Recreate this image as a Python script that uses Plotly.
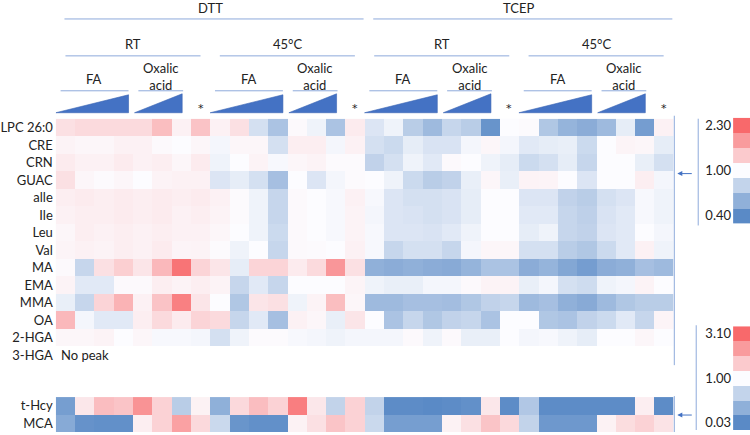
import plotly.graph_objects as go

W, H = 750, 435
FONT = "Lato"
TXT = "#222222"
LINE = "#8EAADB"
TRI = "#4472C4"

rows_top = ["LPC 26:0", "CRE", "CRN", "GUAC", "alle", "Ile", "Leu", "Val",
            "MA", "EMA", "MMA", "OA", "2-HGA", "3-HGA"]
rows_bot = ["t-Hcy", "MCA"]

lpc = [1.25,1.3,1.3,1.3,1.3,1.55,1.1,1.5, 1.1,1.25,0.85,0.7,1.03,0.95,0.7,1.15,
       0.88,0.95,0.75,0.65,0.8,0.75,0.45,1.0, 1.02,0.72,0.62,0.58,0.65,0.92,0.5,1.1]
cre = [1.08,1.05,1.05,1.1,1.1,1.03,1.0,1.05, 0.97,1.05,1.05,0.85,1.12,1.12,0.97,1.1,
       0.85,0.82,0.92,0.87,0.87,0.97,1.05,0.97, 0.9,0.92,0.93,0.82,1.0,1.07,1.05,0.92]
crn = [1.15,1.1,1.1,1.15,1.1,1.12,1.05,1.15, 0.95,1.0,1.08,0.98,1.05,1.08,1.02,1.02,
       0.78,0.85,0.95,0.9,1.03,1.0,0.95,0.92, 0.82,0.85,0.92,0.8,1.0,1.0,0.93,0.85]
guac = [1.25,1.05,1.02,1.05,1.0,1.08,1.1,1.1, 0.88,0.92,0.85,0.68,1.0,0.88,0.97,1.02,
        1.0,0.95,0.82,0.75,0.78,0.93,1.05,0.93, 1.08,1.07,1.0,0.88,1.0,1.0,1.12,0.97]
alle = [1.12,1.15,1.12,1.15,1.12,1.15,1.12,1.15, 1.1,1.02,0.95,0.8,1.03,1.0,0.98,1.1,
        0.98,0.88,0.85,0.85,0.87,0.92,1.0,1.0, 0.88,0.88,0.78,0.75,0.85,0.88,0.98,0.95]
ile = [1.1,1.12,1.12,1.15,1.12,1.15,1.1,1.12, 1.08,1.02,0.95,0.8,1.03,1.0,0.98,1.08,
       0.97,0.88,0.87,0.85,0.87,0.92,1.0,1.0, 0.9,0.9,0.8,0.77,0.87,0.9,0.98,0.95]
leu = [1.05,1.12,1.1,1.12,1.1,1.12,1.1,1.1, 1.05,1.0,0.95,0.82,1.03,1.0,0.98,1.08,
       0.98,0.88,0.88,0.87,0.9,0.95,1.0,1.0, 0.92,0.95,0.8,0.78,0.88,0.9,1.0,0.97]
val = [1.07,1.1,1.08,1.12,1.1,1.15,1.07,1.08, 1.02,0.95,1.0,0.8,1.03,1.02,1.0,1.1,
       0.98,0.8,0.85,0.85,0.8,0.97,1.05,1.05, 0.85,0.85,0.75,0.72,0.82,0.9,1.1,0.95]
ma = [1.03,0.8,1.25,1.4,1.2,1.6,2.2,1.35, 1.2,0.92,1.35,1.35,1.15,1.3,1.9,1.25,
      0.6,0.58,0.6,0.58,0.57,0.62,0.7,0.7, 0.58,0.62,0.55,0.5,0.58,0.6,0.68,0.65]
ema = [1.08,0.9,0.9,1.03,1.03,1.12,1.08,1.12, 1.08,0.8,0.9,0.8,1.0,1.0,1.0,1.07,
       0.95,0.93,0.93,0.97,0.97,1.03,1.08,1.08, 0.93,0.97,0.85,0.83,0.95,0.97,1.08,1.0]
mma = [0.93,0.8,1.35,1.65,1.1,1.5,2.1,1.2, 1.0,0.72,1.2,1.25,0.95,1.08,1.55,1.05,
       0.65,0.65,0.68,0.68,0.67,0.72,0.78,0.8, 0.65,0.68,0.6,0.57,0.65,0.72,0.75,0.75]
oa = [1.6,0.97,0.9,0.9,1.12,1.3,1.15,1.35, 1.3,0.8,0.9,0.68,1.1,1.05,0.93,1.2,
      1.0,0.7,0.8,0.72,0.78,0.8,0.7,1.0, 1.0,0.72,0.7,0.78,0.82,0.9,0.8,1.07]
hga2 = [1.05,1.05,1.08,1.0,1.05,0.98,0.98,0.97, 0.85,0.95,1.02,1.02,0.98,0.97,0.95,0.97,
        0.97,0.97,1.03,0.95,1.03,0.93,0.93,1.0, 0.97,0.98,0.95,0.92,1.0,1.0,1.05,1.0]
hga3 = [None] * 32

thcy = [0.2,1.3,1.9,1.8,2.5,1.6,0.6,1.15, 0.35,1.5,1.9,1.6,2.8,1.3,0.65,1.6,
        0.65,0.05,0.05,0.03,0.05,0.08,1.3,0.05, 0.55,0.05,0.05,0.05,0.05,0.05,1.2,0.05]
mca = [0.3,0.1,0.08,0.08,1.2,1.6,2.3,1.5, 0.7,0.12,0.08,0.08,1.15,1.4,1.8,1.6,
       0.7,0.2,0.2,0.2,1.15,1.4,1.8,1.5, 0.65,0.15,0.15,0.15,1.15,1.45,1.6,1.35]

treatments = ["DTT", "TCEP"]
conditions = ["RT", "45°C", "RT", "45°C"]
acid_labels = ["FA", "Oxalic<br>acid", "*"]

top_min, top_mid, top_max = 0.40, 1.00, 2.30
bot_min, bot_mid, bot_max = 0.03, 1.00, 3.10
legend_top_vals = [2.30, 1.86, 1.44, 1.00, 0.79, 0.60, 0.40]
legend_bot_vals = [3.10, 2.39, 1.71, 1.00, 0.66, 0.35, 0.03]
legend_top_ticks = ["2.30", "1.00", "0.40"]
legend_bot_ticks = ["3.10", "1.00", "0.03"]

BLUE, WHITE, RED = "#5A8AC6", "#FCFCFF", "#F8696B"


def cscale(lo, mid, hi):
    f = (mid - lo) / (hi - lo)
    return [[0, BLUE], [f, WHITE], [1, RED]]


def py(y):
    return 1 - y / H


ncol = 32
xs = list(range(ncol))
z_top = [lpc, cre, crn, guac, alle, ile, leu, val, ma, ema, mma, oa, hga2, hga3]
z_bot = [thcy, mca]

fig = go.Figure()
fig.add_trace(go.Heatmap(z=z_top, x=xs, y=rows_top, xaxis="x", yaxis="y",
                         zmin=top_min, zmax=top_max,
                         colorscale=cscale(top_min, top_mid, top_max),
                         showscale=False, hoverongaps=False))
fig.add_trace(go.Heatmap(z=z_bot, x=xs, y=rows_bot, xaxis="x", yaxis="y2",
                         zmin=bot_min, zmax=bot_max,
                         colorscale=cscale(bot_min, bot_mid, bot_max),
                         showscale=False))
leg_x = [-0.5, 0.5]
leg_y = [i - 0.5 for i in range(8)]
fig.add_trace(go.Heatmap(z=[[v] for v in legend_top_vals], x=leg_x, y=leg_y,
                         xaxis="x2", yaxis="y3",
                         zmin=top_min, zmax=top_max,
                         colorscale=cscale(top_min, top_mid, top_max),
                         showscale=False))
fig.add_trace(go.Heatmap(z=[[v] for v in legend_bot_vals], x=leg_x, y=leg_y,
                         xaxis="x3", yaxis="y4",
                         zmin=bot_min, zmax=bot_max,
                         colorscale=cscale(bot_min, bot_mid, bot_max),
                         showscale=False))

x0, x1 = 53, 673
axfont = dict(family=FONT, size=13, color=TXT)
fig.update_layout(
    width=W, height=H, margin=dict(l=0, r=0, t=0, b=0),
    paper_bgcolor="white", plot_bgcolor="white",
    font=dict(family=FONT, size=13, color=TXT),
    xaxis=dict(domain=[x0 / W, x1 / W], range=[-0.5, 31.5], visible=False,
               anchor="y"),
    yaxis=dict(domain=[py(365), py(118)], autorange="reversed", type="category",
               showgrid=False, zeroline=False, ticks="", tickfont=axfont,
               anchor="x", ticklabelstandoff=2),
    yaxis2=dict(domain=[py(432), py(397)], autorange="reversed", type="category",
                showgrid=False, zeroline=False, ticks="", tickfont=axfont,
                anchor="x", ticklabelstandoff=2),
    xaxis2=dict(domain=[733 / W, 1.0], range=[-0.5, 0.5], showgrid=False,
                zeroline=False, showticklabels=False, ticks="", anchor="y3"),
    xaxis3=dict(domain=[733 / W, 1.0], range=[-0.5, 0.5], showgrid=False,
                zeroline=False, showticklabels=False, ticks="", anchor="y4"),
    yaxis3=dict(domain=[py(223), py(117)], range=[6.5, -0.5],
                tickvals=[0, 3, 6], ticktext=legend_top_ticks,
                showgrid=False, zeroline=False, ticks="", tickfont=axfont,
                anchor="x2", ticklabelstandoff=1),
    yaxis4=dict(domain=[py(430), py(326)], range=[6.5, -0.5],
                tickvals=[0, 3, 6], ticktext=legend_bot_ticks,
                showgrid=False, zeroline=False, ticks="", tickfont=axfont,
                anchor="x3", ticklabelstandoff=1),
)

shapes = []
ann = []


def hline(xa, xb, y):
    shapes.append(dict(type="line", xref="x", yref="paper", x0=xa, x1=xb,
                       y0=py(y), y1=py(y), line=dict(color=LINE, width=1)))


def vline(x, ya, yb):
    shapes.append(dict(type="line", xref="paper", yref="paper", x0=x / W, x1=x / W,
                       y0=py(ya), y1=py(yb), line=dict(color=LINE, width=1)))


def text(x, y, s, size=13, family=FONT):
    ann.append(dict(x=x, y=py(y), xref="x", yref="paper", text=s, showarrow=False,
                    font=dict(family=family, size=size, color=TXT),
                    xanchor="center", yanchor="middle"))


for b, t in enumerate(treatments):
    s = 16 * b
    hline(s - 0.05, s + 15.45, 18)
    text(s + 7.5, 7, t)

for g, c in enumerate(conditions):
    s = 8 * g
    hline(s, s + 7.0, 55)
    text(s + 3.5, 43, c)
    hline(s - 0.25, s + 3.27, 90)
    text(s + 1.5, 78, acid_labels[0])
    hline(s + 3.78, s + 6.1, 90)
    text(s + 4.95, 76, acid_labels[1])
    text(s + 7.0, 108, acid_labels[2], size=11, family="DejaVu Sans")
    for (a, bb, top) in [(s - 0.5, s + 3.27, 94), (s + 3.58, s + 6.05, 93)]:
        shapes.append(dict(type="path", xref="x", yref="paper",
                           path=f"M {a},{py(112)} L {bb},{py(112)} L {bb},{py(top)} Z",
                           fillcolor=TRI, line=dict(color="#3B65B3", width=0.6)))

vline(674, 115, 365)
vline(674, 396, 432)
vline(698, 118, 225)
vline(696, 325, 430)

ann.append(dict(x=-0.5, y="3-HGA", xref="x", yref="y", text="No peak",
                showarrow=False, xanchor="left", yanchor="middle", xshift=3,
                font=dict(family=FONT, size=13, color=TXT)))

for ytip in (173, 415):
    ann.append(dict(x=677 / W, y=py(ytip), xref="paper", yref="paper", text="",
                    showarrow=True, ax=16, ay=0, arrowhead=2, arrowsize=1,
                    arrowwidth=1, arrowcolor=TRI))

fig.update_layout(shapes=shapes, annotations=ann)
fig.write_html("out.html", config={"displayModeBar": False},
               post_script="document.body.style.margin='0';")
